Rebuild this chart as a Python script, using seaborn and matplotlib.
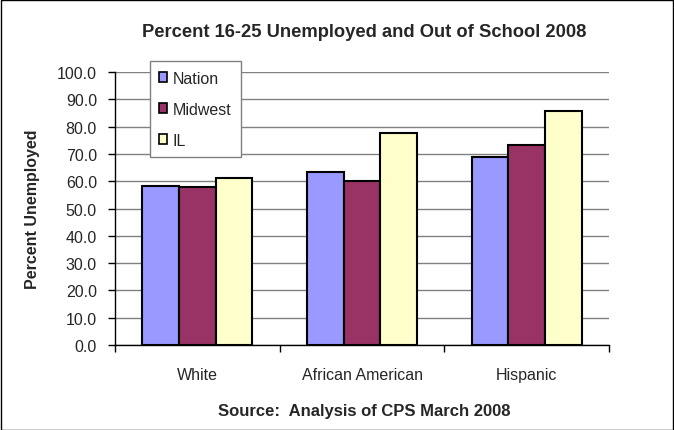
import matplotlib
matplotlib.use("Agg")
import matplotlib.pyplot as plt
import seaborn as sns
import pandas as pd
from matplotlib.patches import Rectangle, Patch

categories = ["White", "African American", "Hispanic"]
series = ["Nation", "Midwest", "IL"]
nation = [58.2, 63.2, 68.9]
midwest = [58.0, 60.1, 73.3]
il = [61.2, 77.8, 85.7]
colors = ["#9999FF", "#993366", "#FFFFCC"]
yticks = [0, 10, 20, 30, 40, 50, 60, 70, 80, 90, 100]

rows = []
for s, vals in zip(series, [nation, midwest, il]):
    for c, v in zip(categories, vals):
        rows.append({"Category": c, "Series": s, "Value": v})
df = pd.DataFrame(rows)

sns.set_theme(style="white")
plt.rcParams["font.family"] = ["Liberation Sans", "DejaVu Sans"]

fig = plt.figure(figsize=(6.74, 4.31), dpi=100)
ax = fig.add_axes([0.1706, 0.1972, 0.7330, 0.6334])

sns.barplot(data=df, x="Category", y="Value", hue="Series", order=categories,
            hue_order=series, palette=colors, saturation=1, width=0.67, gap=0,
            edgecolor="black", linewidth=1.5, ax=ax, legend=False, zorder=3)

ax.set_ylim(0, 100)
ax.set_xlim(-0.5, 2.5)
ax.set_yticks(yticks)
ax.set_yticklabels([f"{v:.1f}" for v in yticks], fontsize=11.5)
ax.yaxis.grid(True, color="#808080", linewidth=1, zorder=0)
ax.set_axisbelow(True)
ax.set_xticks([0, 1, 2])
ax.set_xticklabels(categories, fontsize=11.5)
ax.set_xticks([-0.5, 0.5, 1.5, 2.5], minor=True)
ax.tick_params(axis="x", which="major", length=0, pad=16)
ax.tick_params(axis="x", which="minor", length=5, color="black", width=1, direction="out", bottom=True)
ax.tick_params(axis="y", length=5, color="black", width=1, direction="out", left=True, pad=8)
for sp in ["top", "right"]:
    ax.spines[sp].set_visible(False)
for sp in ["left", "bottom"]:
    ax.spines[sp].set_color("black")
    ax.spines[sp].set_linewidth(1)
ax.set_xlabel("")
ax.set_ylabel("Percent Unemployed", fontsize=11.5, fontweight="bold", labelpad=12)

handles = [Patch(facecolor=c, edgecolor="black", linewidth=1.2) for c in colors]
leg = ax.legend(handles, series, loc="upper left", bbox_to_anchor=(0.07, 1.04),
                fontsize=11.5, handlelength=0.5, handleheight=0.5, handletextpad=0.35,
                labelspacing=1.0, borderpad=0.6, borderaxespad=0, frameon=True, fancybox=False,
                framealpha=1, edgecolor="#808080")
leg.get_frame().set_linewidth(1)
leg.set_zorder(5)

fig.text(0.54, 0.925, "Percent 16-25 Unemployed and Out of School 2008",
         ha="center", va="center", fontsize=13.2, fontweight="bold")
fig.text(0.54, 0.045, "Source:  Analysis of CPS March 2008",
         ha="center", va="center", fontsize=12, fontweight="bold")

fig.patches.append(Rectangle((0.001, 0.001), 0.997, 0.997, transform=fig.transFigure,
                             fill=False, edgecolor="black", linewidth=1))

fig.savefig("out.png", dpi=100)
